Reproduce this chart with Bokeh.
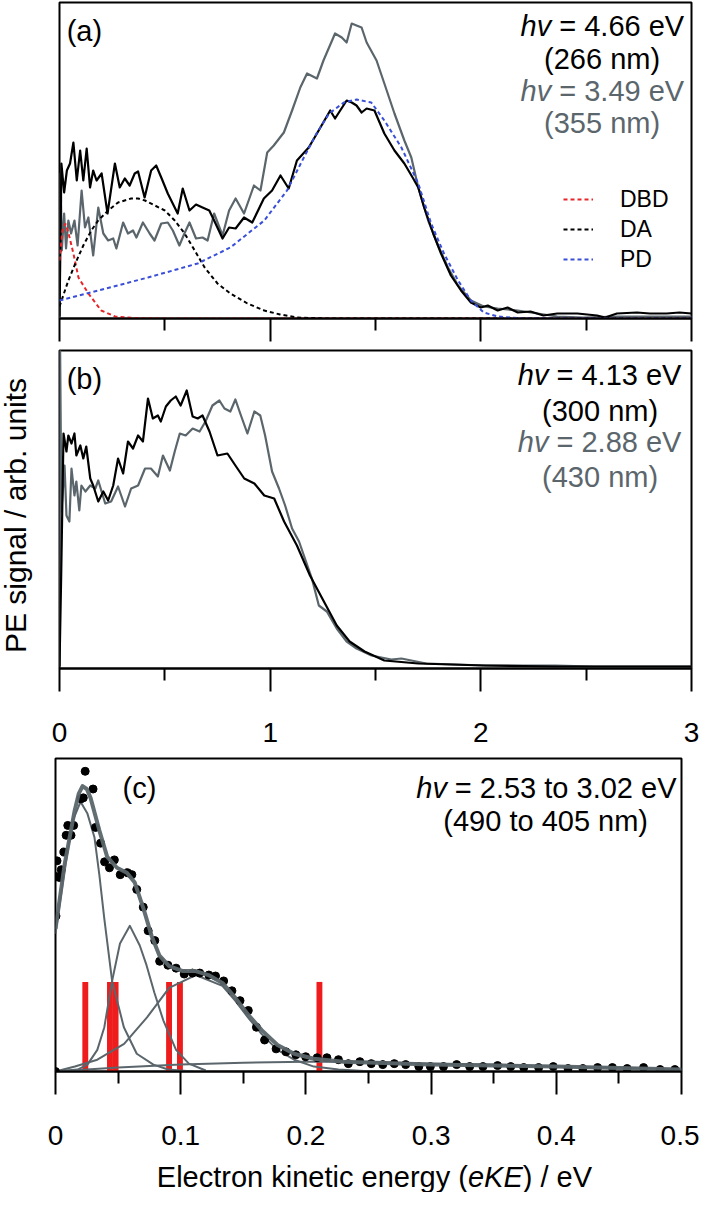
import math
from bokeh.plotting import figure
from bokeh.models import Range1d, FixedTicker, Label, Legend, LegendItem, CustomJSTickFormatter
from bokeh.layouts import column, row
from bokeh.core.properties import value
from bokeh.embed import file_html
from bokeh.resources import INLINE

FONT = "Liberation Sans"
GRAY = "#5b666c"
RED = "#e8262a"
BLUE = "#3a4fd8"

# ---------------- panel (a) ----------------
a_x_266 = [0.000, 0.007, 0.009, 0.022, 0.035, 0.050, 0.066, 0.082, 0.098, 0.113, 0.129, 0.145, 0.160, 0.176,
           0.200, 0.228, 0.263, 0.286, 0.310, 0.333, 0.357, 0.373, 0.404, 0.435, 0.459, 0.483, 0.514, 0.561,
           0.585, 0.617, 0.648, 0.679, 0.711, 0.734, 0.774, 0.805, 0.836, 0.876, 0.915, 0.970, 1.009, 1.049,
           1.088, 1.127, 1.183, 1.222, 1.285, 1.308, 1.363, 1.387, 1.410, 1.434, 1.458, 1.495, 1.542, 1.590,
           1.637, 1.679, 1.703, 1.731, 1.774, 1.811, 1.858, 1.906, 1.953, 2.000, 2.033, 2.080, 2.127, 2.175,
           2.236, 2.297, 2.363, 2.458, 2.552, 2.590, 2.646, 2.741, 2.802, 2.882, 2.943, 3.000]
a_y_266 = [2, 118, 155, 126, 148, 155, 176, 138, 168, 138, 170, 131, 148, 138,
           145, 105, 155, 131, 140, 133, 145, 147, 121, 148, 153, 141, 125, 105,
           130, 108, 114, 111, 108, 98, 80, 91, 90, 101, 96, 120, 128, 143,
           130, 158, 171, 185, 208, 200, 218, 216, 213, 206, 210, 208, 185, 168,
           155, 140, 131, 111, 85, 65, 43, 28, 16, 11, 13, 8, 11, 6,
           7, 3, 5, 5, 3, 1, 5, 6, 5, 5, 6, 5]

a_x_355 = [0.000, 0.002, 0.005, 0.011, 0.022, 0.031, 0.042, 0.055, 0.071, 0.086, 0.105, 0.121, 0.137, 0.160,
           0.184, 0.208, 0.231, 0.255, 0.270, 0.302, 0.325, 0.349, 0.365, 0.396, 0.428, 0.451, 0.483, 0.514,
           0.538, 0.569, 0.593, 0.617, 0.648, 0.679, 0.703, 0.734, 0.774, 0.805, 0.836, 0.876, 0.923, 0.954,
           0.986, 1.017, 1.065, 1.104, 1.143, 1.175, 1.222, 1.253, 1.308, 1.340, 1.363, 1.387, 1.410, 1.434,
           1.458, 1.505, 1.542, 1.590, 1.637, 1.670, 1.703, 1.750, 1.797, 1.844, 1.892, 1.953, 2.014, 2.080,
           2.175, 2.269, 2.363, 2.486, 2.646, 2.802, 3.000]
a_y_355 = [0, 68, 145, 68, 105, 70, 98, 85, 98, 73, 128, 91, 101, 63,
           111, 85, 78, 80, 70, 96, 85, 88, 81, 96, 85, 78, 95, 96,
           88, 73, 85, 96, 80, 81, 78, 105, 83, 108, 120, 105, 133, 128,
           166, 173, 186, 208, 231, 245, 240, 258, 285, 281, 276, 295, 293, 291,
           276, 258, 235, 205, 178, 161, 131, 98, 73, 51, 33, 18, 12, 10,
           8, 5, 2, 1, 2, 2, 2]

dbd_x = [0.000, 0.014, 0.028, 0.042, 0.066, 0.090, 0.137, 0.198, 0.264, 0.350, 0.500, 3.000]
dbd_y = [58, 88, 95, 86, 65, 41, 25, 8, 2, 0.5, 0, 0]

da_x = [0.000, 0.042, 0.075, 0.113, 0.151, 0.184, 0.231, 0.278, 0.340, 0.373, 0.406, 0.453, 0.500,
        0.547, 0.594, 0.642, 0.689, 0.750, 0.811, 0.892, 0.972, 1.047, 1.127, 1.270, 3.000]
da_y = [12, 38, 55, 73, 88, 98, 108, 116, 120, 120, 118, 113, 108,
        98, 85, 68, 51, 35, 25, 15, 8, 4, 1, 0, 0]

pd_x = [0.000, 0.184, 0.420, 0.656, 0.811, 0.972, 1.080, 1.160, 1.220, 1.280, 1.350, 1.410, 1.480,
        1.542, 1.623, 1.703, 1.764, 1.825, 1.892, 1.953, 2.014, 2.080, 2.200, 3.000]
pd_y = [18, 28, 41, 55, 71, 98, 128, 161, 185, 205, 216, 219, 216,
        198, 171, 135, 95, 65, 38, 18, 6, 2, 0, 0]

legend_names = ["DBD", "DA", "PD"]

# ---------------- panel (b) ----------------
b_x_300 = [0.000, 0.008, 0.019, 0.033, 0.042, 0.057, 0.071, 0.080, 0.099, 0.113, 0.127, 0.146, 0.160, 0.184,
           0.208, 0.231, 0.255, 0.278, 0.302, 0.325, 0.349, 0.373, 0.396, 0.420, 0.443, 0.467, 0.481, 0.505,
           0.528, 0.552, 0.575, 0.604, 0.632, 0.656, 0.679, 0.712, 0.750, 0.797, 0.835, 0.877, 0.925, 0.972,
           1.019, 1.066, 1.127, 1.189, 1.255, 1.316, 1.377, 1.448, 1.542, 1.703, 2.014, 2.354, 3.000]
b_y_300 = [2, 93, 235, 217, 233, 225, 235, 213, 223, 210, 222, 190, 183, 167,
           177, 168, 183, 210, 195, 227, 220, 233, 227, 270, 250, 253, 247, 262,
           268, 272, 263, 278, 252, 250, 253, 237, 213, 215, 203, 190, 185, 173,
           170, 147, 123, 93, 67, 43, 27, 17, 8, 5, 3, 2, 2]

b_x_430 = [0.000, 0.003, 0.009, 0.024, 0.033, 0.047, 0.057, 0.071, 0.080, 0.094, 0.104, 0.123, 0.146, 0.170,
           0.184, 0.217, 0.245, 0.278, 0.311, 0.340, 0.373, 0.406, 0.434, 0.467, 0.491, 0.524, 0.547, 0.571,
           0.599, 0.632, 0.665, 0.693, 0.726, 0.759, 0.783, 0.811, 0.835, 0.858, 0.892, 0.925, 0.953, 0.976,
           1.009, 1.042, 1.071, 1.104, 1.137, 1.165, 1.198, 1.231, 1.269, 1.316, 1.363, 1.410, 1.481, 1.575,
           1.623, 1.741, 2.024, 2.354, 2.540, 3.000]
b_y_430 = [2, 318, 157, 203, 153, 147, 200, 173, 187, 158, 183, 177, 183, 180,
           188, 165, 167, 182, 162, 180, 183, 200, 200, 192, 213, 198, 217, 235,
           233, 240, 237, 247, 263, 268, 260, 257, 269, 255, 235, 257, 253, 233,
           197, 180, 163, 140, 127, 110, 90, 63, 57, 40, 27, 20, 13, 9,
           10, 5, 3, 3, 2, 2]

ab_ticks = [0, 1, 2, 3]
ab_minor = [0.5, 1.5, 2.5]

# ---------------- panel (c) ----------------
c_dot_x = [0.000, 0.0004, 0.0008, 0.0012, 0.0033, 0.0046, 0.0067, 0.0085, 0.0098, 0.0124, 0.0145, 0.0203,
           0.0222, 0.0237, 0.0300, 0.0320, 0.0360, 0.0392, 0.0431, 0.0470, 0.0517, 0.0575, 0.0610, 0.0649,
           0.0701, 0.0740, 0.0793, 0.0832, 0.0898, 0.0963, 0.1028, 0.1094, 0.1152, 0.1225, 0.1278, 0.1343,
           0.1409, 0.1474, 0.1540, 0.1605, 0.1670, 0.1762, 0.1841, 0.1920, 0.1998, 0.2090, 0.2168, 0.2260,
           0.2339, 0.2431, 0.2522, 0.2614, 0.2706, 0.2797, 0.2902, 0.2994, 0.3099, 0.3204, 0.3308, 0.3414,
           0.3531, 0.3636, 0.3740, 0.3859, 0.3976, 0.4094, 0.4212, 0.4330, 0.4448, 0.4566, 0.4697, 0.4829,
           0.4947]
c_dot_y = [0, 158, 198, 214, 197, 205, 223, 240, 250, 240, 250, 277,
           278, 305, 287, 248, 232, 213, 207, 215, 200, 202, 200, 185,
           167, 143, 133, 112, 108, 105, 99, 100, 100, 98, 97, 92,
           82, 72, 62, 45, 32, 23, 20, 17, 15, 14, 14, 12,
           8, 10, 8, 7, 8, 7, 5, 5, 5, 7, 5, 5,
           6, 5, 4, 4, 5, 3, 3, 4, 4, 3, 4, 2,
           2]

c_fit_x = [0.000, 0.0075, 0.0153, 0.0185, 0.0216, 0.0250, 0.0280, 0.0350, 0.0413, 0.0491, 0.0570, 0.0633,
           0.0704, 0.0767, 0.0829, 0.0908, 0.1018, 0.1120, 0.1222, 0.1333, 0.1435, 0.1537, 0.1647, 0.1773,
           0.1906, 0.2064, 0.2300, 0.3000, 0.4000, 0.5000]
c_fit_y = [145, 212, 265, 282, 290, 287, 278, 245, 218, 207, 202, 192,
           165, 138, 118, 107, 102, 102, 98, 90, 75, 58, 42, 27,
           18, 13, 10, 7, 5, 2]

c_g1_x = [0.000, 0.0075, 0.0138, 0.0200, 0.0255, 0.0311, 0.0350, 0.0390, 0.0452, 0.0546, 0.0649, 0.0782, 0.0900, 0.1100]
c_g1_y = [140, 207, 255, 274, 262, 238, 200, 155, 92, 45, 18, 7, 2, 0]

c_g2_x = [0.000, 0.0177, 0.0255, 0.0334, 0.0390, 0.0452, 0.0515, 0.0594, 0.0673, 0.0727, 0.0790, 0.0861, 0.0963, 0.1065, 0.1200]
c_g2_y = [0, 2, 7, 22, 45, 92, 130, 148, 128, 108, 80, 52, 22, 8, 1]

c_g3_x = [0.000, 0.0155, 0.0334, 0.0548, 0.0731, 0.0908, 0.1120, 0.1333, 0.1435, 0.1537, 0.1647, 0.1773,
          0.1906, 0.2064, 0.2260, 0.2535, 0.3000]
c_g3_y = [0, 5, 12, 28, 55, 85, 98, 87, 72, 55, 38, 22, 12, 5, 2, 0, 0]

c_g4_x = [0.00, 0.05, 0.10, 0.15, 0.20, 0.25, 0.30, 0.35, 0.40, 0.45, 0.50]
c_g4_y = [0, 4, 7, 9, 10, 10, 8, 7, 5, 4, 2]

c_bar_x = [0.0238, 0.0435, 0.0480, 0.0907, 0.0994, 0.2108]
c_bar_h = [91, 91, 91, 91, 91, 91]

c_ticks = [0, 0.1, 0.2, 0.3, 0.4, 0.5]
c_tick_labels = ["0", "0.1", "0.2", "0.3", "0.4", "0.5"]
c_minor = [0.05, 0.15, 0.25, 0.35, 0.45]


def make_fig(width, height, xr, yr, top, bottom, left, right, ticks, minor, show_labels=True):
    p = figure(width=width, height=height, x_range=Range1d(*xr), y_range=Range1d(*yr),
               output_backend="svg", toolbar_location=None, y_axis_location=None,
               x_axis_location="below")
    p.min_border_top = top
    p.min_border_bottom = bottom
    p.min_border_left = left
    p.min_border_right = right
    p.grid.visible = False
    p.outline_line_color = "black"
    p.outline_line_width = 2
    p.outline_line_alpha = 1.0
    p.background_fill_color = "white"
    p.border_fill_color = "white"
    ax = p.xaxis[0]
    ax.ticker = FixedTicker(ticks=ticks, minor_ticks=minor)
    ax.axis_line_width = 2
    ax.axis_line_color = "black"
    ax.major_tick_line_width = 2
    ax.minor_tick_line_width = 2
    ax.major_tick_line_color = "black"
    ax.minor_tick_line_color = "black"
    ax.major_tick_in = 0
    ax.major_tick_out = 23
    ax.minor_tick_in = 0
    ax.minor_tick_out = 12
    ax.major_label_text_font = FONT
    ax.major_label_text_color = "black"
    if show_labels:
        ax.major_label_text_font_size = "28px"
        ax.major_label_standoff = 31
    else:
        ax.formatter = CustomJSTickFormatter(code="return ''")
        ax.major_label_text_font_size = "1px"
        ax.major_label_standoff = 0
    return p


def lab(p, x, y, text, size="29px", color="black", style="normal", align="left", angle=0.0):
    # y is the vertical centre of the text
    p.add_layout(Label(x=x, y=y, x_units="data", y_units="data", text=text,
                       text_font=FONT, text_font_size=size, text_color=color,
                       text_font_style=style, text_align=align,
                       text_baseline="middle", angle=angle))


LAB_W = 49
AB_W = 650
W = LAB_W + AB_W
HA = 346
HB = 411
HC = 403
HD = 1192 - HA - HB - HC

# ---- figure A ----
pA = make_fig(AB_W, HA, (0, 3), (0, 316), 2, 28, 10, 8, ab_ticks, ab_minor, show_labels=False)
pA.line(a_x_355, a_y_355, line_color=GRAY, line_width=2.2, line_join="round")
pA.line(a_x_266, a_y_266, line_color="black", line_width=2.2, line_join="round")
r_dbd = pA.line(dbd_x, dbd_y, line_color=RED, line_width=2, line_dash="4 3")
r_da = pA.line(da_x, da_y, line_color="black", line_width=2, line_dash="4 3")
r_pd = pA.line(pd_x, pd_y, line_color=BLUE, line_width=2, line_dash="4 3")
leg = Legend(items=[LegendItem(label=legend_names[0], renderers=[r_dbd]),
                    LegendItem(label=legend_names[1], renderers=[r_da]),
                    LegendItem(label=legend_names[2], renderers=[r_pd])],
             location=(504, 44), padding=0, margin=0, spacing=0,
             glyph_width=30, glyph_height=30, label_height=30, label_standoff=27,
             label_text_font=FONT, label_text_font_size="23px", label_text_color="black",
             border_line_color=None, background_fill_alpha=0.0)
pA.add_layout(leg)
lab(pA, 0.034, 288, "(a)")
lab(pA, 2.334, 293, "hv", style="italic", align="right")
lab(pA, 2.372, 293, "= 4.66 eV")
lab(pA, 2.5755, 260, "(266 nm)", align="center")
lab(pA, 2.334, 228, "hv", style="italic", align="right", color=GRAY)
lab(pA, 2.372, 228, "= 3.49 eV", color=GRAY)
lab(pA, 2.5755, 196, "(355 nm)", align="center", color=GRAY)

# ---- figure B ----
pB = make_fig(AB_W, HB, (0, 3), (0, 318), 4, 89, 10, 8, ab_ticks, ab_minor, show_labels=True)
pB.line(b_x_430, b_y_430, line_color=GRAY, line_width=2.2, line_join="round")
pB.line(b_x_300, b_y_300, line_color="black", line_width=2.2, line_join="round")
lab(pB, 0.034, 290, "(b)")
lab(pB, 2.321, 294, "hv", style="italic", align="right")
lab(pB, 2.359, 294, "= 4.13 eV")
lab(pB, 2.566, 258, "(300 nm)", align="center")
lab(pB, 2.321, 227, "hv", style="italic", align="right", color=GRAY)
lab(pB, 2.359, 227, "= 2.88 eV", color=GRAY)
lab(pB, 2.566, 192, "(430 nm)", align="center", color=GRAY)

# ---- y-axis title strip (left of panels a and b) ----
pY = figure(width=LAB_W, height=HA + HB, x_range=Range1d(0, LAB_W), y_range=Range1d(0, HA + HB),
            output_backend="svg", toolbar_location=None, x_axis_location=None, y_axis_location=None,
            min_border=0)
pY.grid.visible = False
pY.outline_line_color = None
pY.border_fill_color = "white"
pY.text(x=[15], y=[HA + HB - 515], text=["PE signal / arb. units"], angle=math.pi / 2,
        text_font=value(FONT), text_font_size="30px", text_color="black",
        text_align="center", text_baseline="middle")

# ---- figure C ----
pC = make_fig(W, HC, (0, 0.5), (0, 318), 1, 89, 55, 18, c_ticks, c_minor, show_labels=True)
pC.xaxis[0].major_label_overrides = {t: s for t, s in zip(c_ticks, c_tick_labels)}
pC.vbar(x=c_bar_x, top=c_bar_h, bottom=0, width=0.0047, fill_color="#ee1c1c", line_color=None)
for gx, gy in [(c_g1_x, c_g1_y), (c_g2_x, c_g2_y), (c_g3_x, c_g3_y), (c_g4_x, c_g4_y)]:
    pC.line(gx, gy, line_color=GRAY, line_width=2, line_join="round")
pC.scatter(c_dot_x, c_dot_y, size=8, fill_color="black", line_color="black")
pC.line(c_fit_x, c_fit_y, line_color=GRAY, line_width=4, line_join="round", line_alpha=0.95)
lab(pC, 0.0535, 288, "(c)")
lab(pC, 0.3126, 288, "hv", style="italic", align="right")
lab(pC, 0.3189, 288, "= 2.53 to 3.02 eV")
lab(pC, 0.3915, 254, "(490 to 405 nm)", align="center")

# ---- x-axis title strip under panel c ----
pD = figure(width=W, height=HD, x_range=Range1d(0, 0.5), y_range=Range1d(0, HD),
            output_backend="svg", toolbar_location=None, x_axis_location=None, y_axis_location=None)
pD.min_border_top = 0
pD.min_border_bottom = 0
pD.min_border_left = 55
pD.min_border_right = 18
pD.grid.visible = False
pD.outline_line_color = None
pD.border_fill_color = "white"
lab(pD, 0.3294, 16, "Electron kinetic energy (", size="29px", align="right")
lab(pD, 0.3294, 16, "eKE", size="29px", style="italic")
lab(pD, 0.3732, 16, ") / eV", size="29px")

layout = column(row(pY, column(pA, pB, spacing=0), spacing=0), pC, pD, spacing=0)
open("out.html", "w").write(file_html(layout, INLINE))
